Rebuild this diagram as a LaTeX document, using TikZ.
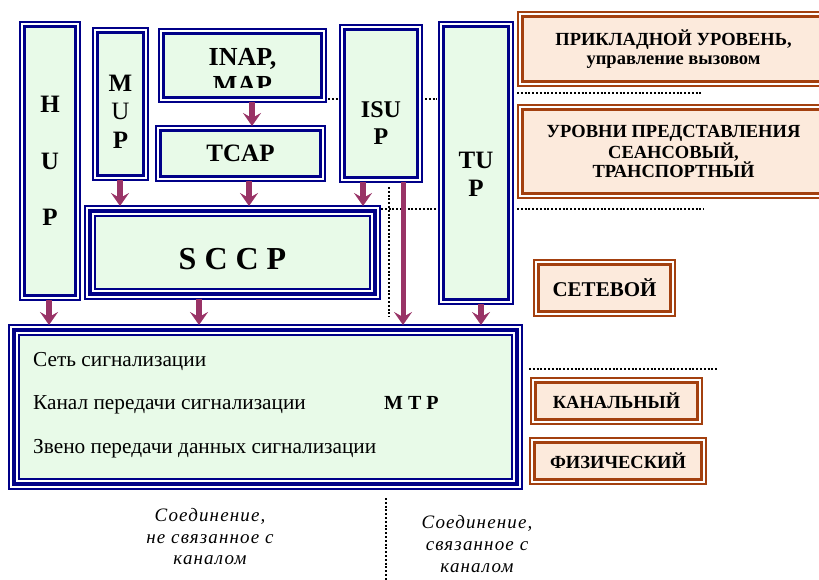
\documentclass[tikz,border=0pt]{standalone}
\usepackage{fontspec}
\setmainfont{Liberation Serif}[BoldFont={Liberation Serif Bold},ItalicFont={Liberation Serif Italic},BoldItalicFont={Liberation Serif Bold Italic}]
\newfontfamily\spacedfont{Liberation Serif Italic}[LetterSpace=6]
\usetikzlibrary{arrows.meta}
\definecolor{navyline}{HTML}{000088}
\definecolor{mintfill}{HTML}{E8FAE8}
\definecolor{rustline}{HTML}{A3400F}
\definecolor{peachfill}{HTML}{FCEADC}
\definecolor{plum}{HTML}{993366}
\begin{document}
\begin{tikzpicture}[x=1pt,y=-1pt,
  proto/.style={draw=navyline,line width=3pt,fill=mintfill,inner sep=0pt,outer sep=4.5pt},
  corebox/.style={draw=navyline,line width=2pt,fill=mintfill,inner sep=0pt,outer sep=10pt},
  osi/.style={draw=rustline,line width=3pt,fill=peachfill,inner sep=0pt,outer sep=4.5pt,align=center},
  letters/.style={align=center,inner sep=0pt},
  sep/.style={line width=2pt,dash pattern=on 2pt off 1.8pt},
  flow/.style={plum,line width=6pt,-{Stealth[length=13pt,width=18pt,inset=5pt]}}]
\useasboundingbox (0,0) rectangle (819,580);
\clip (0,0) rectangle (819,580);
% protocol boxes
\node[proto,minimum width=51,minimum height=269] (hup) at (50,161) {};
\node[proto,minimum width=46,minimum height=143] (mup) at (120.5,104) {};
\node[proto,minimum width=158,minimum height=64] (inap) at (242.5,65.5) {};
\node[proto,minimum width=160,minimum height=46,font=\bfseries\fontsize{25}{28}\selectfont] (tcap) at (240.5,153.5) {TCAP};
\node[proto,minimum width=73,minimum height=148] (isup) at (381,103.5) {};
\node[proto,minimum width=65,minimum height=273] (tup) at (476,163) {};
\node[corebox,minimum width=275,minimum height=73] (sccp) at (232.5,252.5) {};
\node[corebox,minimum width=493,minimum height=144] (mtp) at (265.5,407) {};
\foreach \n in {hup,mup,inap,tcap,isup,tup}
  \draw[navyline,line width=2pt] (\n.north west) rectangle (\n.south east);
\foreach \n in {sccp,mtp} {
  \draw[navyline,line width=4pt] ([shift={(5pt,-5pt)}]\n.north west) rectangle ([shift={(-5pt,5pt)}]\n.south east);
  \draw[navyline,line width=2pt] (\n.north west) rectangle (\n.south east);
}
% box texts
\node[letters,font=\bfseries\fontsize{25}{56.5}\selectfont] (hup-t) at (hup.center) {H\\U\\P};
\node[letters,font=\bfseries\fontsize{25}{28.5}\selectfont] (mup-t) at ([yshift=-7.5pt]mup.center) {M\\{\mdseries U}\\P};
\node[letters,font=\bfseries\fontsize{24}{27}\selectfont] (isup-t) at ([yshift=-20pt]isup.center) {ISU\\P};
\node[letters,font=\bfseries\fontsize{25}{28}\selectfont] (tup-t) at ([yshift=-11pt]tup.center) {TU\\P};
\begin{scope}
\clip ([shift={(6pt,-6pt)}]inap.north west) rectangle ([shift={(-6pt,14pt)}]inap.south east);
\node[letters,font=\bfseries\fontsize{26}{28}\selectfont] (inap-t) at ([yshift=-5.5pt]inap.center) {INAP,\\MAP};
\end{scope}
\node[letters,font=\bfseries\fontsize{32}{36}\selectfont] (sccp-t) at ([yshift=-7pt]sccp.center) {S C C P};
\node[anchor=base west,inner sep=0pt,font=\fontsize{21.3}{24}\selectfont] (mtp-a) at (33,366) {Сеть сигнализации};
\node[anchor=base west,inner sep=0pt,font=\fontsize{21.3}{24}\selectfont] (mtp-b) at (33,409) {Канал передачи сигнализации};
\node[anchor=base west,inner sep=0pt,font=\fontsize{21.3}{24}\selectfont] (mtp-c) at (33,453) {Звено передачи данных сигнализации};
\node[anchor=base west,inner sep=0pt,font=\bfseries\fontsize{20}{24}\selectfont] (mtp-t) at (384,409) {M T P};
% OSI levels
\node[osi,minimum width=302,minimum height=65,font=\bfseries\fontsize{18.5}{19.5}\selectfont] (app) at (673.5,49) {ПРИКЛАДНОЙ УРОВЕНЬ,\\управление вызовом};
\node[osi,minimum width=302,minimum height=84,font=\bfseries\fontsize{18.5}{19}\selectfont] (pres) at (673.5,151.5) {УРОВНИ ПРЕДСТАВЛЕНИЯ\\СЕАНСОВЫЙ,\\ТРАНСПОРТНЫЙ};
\node[osi,minimum width=132,minimum height=47,font=\bfseries\fontsize{21}{24}\selectfont] (net) at (604.5,288) {СЕТЕВОЙ};
\node[osi,minimum width=162,minimum height=37,font=\bfseries\fontsize{18.5}{22}\selectfont] (link) at (616.5,401) {КАНАЛЬНЫЙ};
\node[osi,minimum width=167,minimum height=37,font=\bfseries\fontsize{18.5}{22}\selectfont] (phys) at (618,461) {ФИЗИЧЕСКИЙ};
\foreach \n in {app,pres,net,link,phys}
  \draw[rustline,line width=2pt] (\n.north west) rectangle (\n.south east);
% dotted borders
\draw[sep] (328,99) -- (338,99);
\draw[sep] (425,99) -- (437,99);
\draw[sep] (517,93) -- (703,93);
\draw[sep] (381,209) -- (437,209);
\draw[sep] (517,209) -- (704,209);
\draw[sep] (389,187) -- (389,317);
\draw[sep] (529,369) -- (717,369);
\draw[sep] (386,498) -- (386,580);
% arrows
\draw[flow] ([xshift=9.5pt]inap.south) -- ([xshift=11.5pt]tcap.north);
\draw[flow] ([xshift=-0.5pt]mup.south) -- ([xshift=-112.5pt]sccp.north);
\draw[flow] ([xshift=8.5pt]tcap.south) -- ([xshift=16.5pt]sccp.north);
\draw[flow] ([xshift=-18pt]isup.south) -- ([xshift=130.5pt]sccp.north);
\draw[flow] ([xshift=-1pt]hup.south) -- ([xshift=-216.5pt]mtp.north);
\draw[flow] ([xshift=-33.5pt]sccp.south) -- ([xshift=-66.5pt]mtp.north);
\draw[flow,line width=5pt] ([xshift=22pt]isup.south) -- ([xshift=137.5pt]mtp.north);
\draw[flow] ([xshift=5pt]tup.south) -- ([xshift=215.5pt]mtp.north);
% connection types
\node[anchor=base,inner sep=0pt,font=\spacedfont\fontsize{19}{22}\selectfont] (cl-a) at (210,521) {Соединение,};
\node[anchor=base,inner sep=0pt,font=\spacedfont\fontsize{19}{22}\selectfont] (cl-b) at (210,543) {не связанное с};
\node[anchor=base,inner sep=0pt,font=\spacedfont\fontsize{19}{22}\selectfont] (cl-c) at (210,564) {каналом};
\node[anchor=base,inner sep=0pt,font=\spacedfont\fontsize{19}{22}\selectfont] (co-a) at (477,528) {Соединение,};
\node[anchor=base,inner sep=0pt,font=\spacedfont\fontsize{19}{22}\selectfont] (co-b) at (477,550) {связанное с};
\node[anchor=base,inner sep=0pt,font=\spacedfont\fontsize{19}{22}\selectfont] (co-c) at (477,572) {каналом};
\end{tikzpicture}
\end{document}
